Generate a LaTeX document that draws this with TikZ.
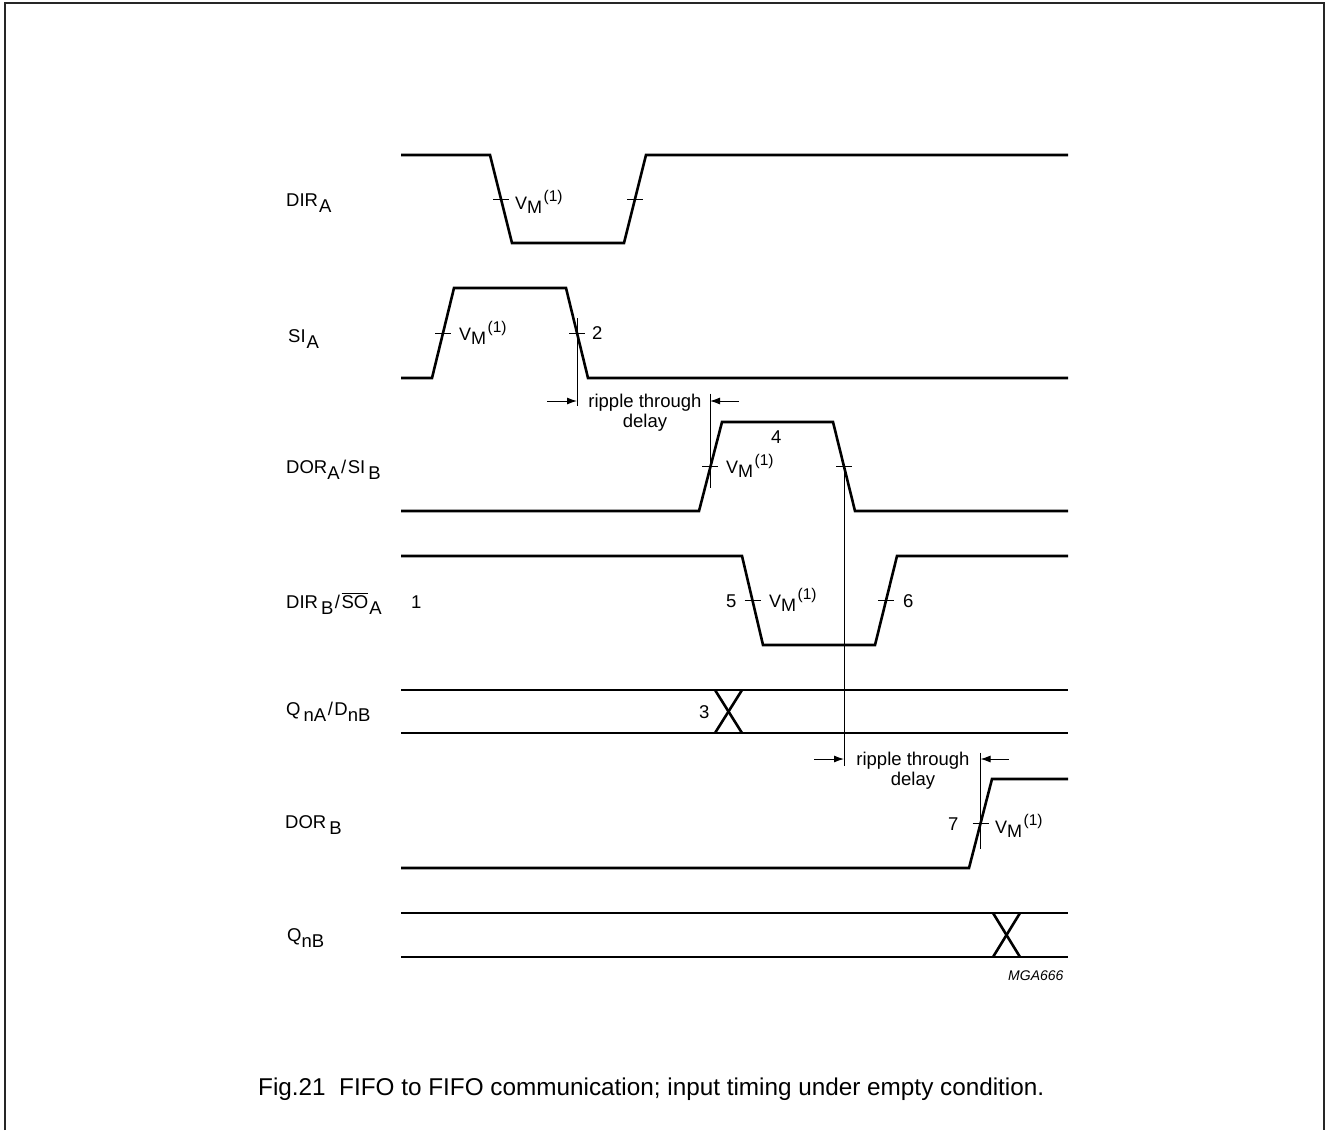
\documentclass[tikz,border=0pt]{standalone}
\usepackage{fontspec}
\setmainfont{Liberation Sans}
\usetikzlibrary{arrows.meta}

\newcommand{\lo}[1]{\raisebox{-6pt}{#1}}
\newcommand{\vmsup}[1]{\raisebox{8pt}{\fontsize{15.5}{16}\selectfont #1}}
\newcommand{\vm}{V\raisebox{-4pt}{M}\kern1.5pt\vmsup{(1)}}
\newcommand{\vmtick}[1]{\draw[fine] ([xshift=-8pt]#1) -- ([xshift=8pt]#1);}
\newcommand{\sigsep}{\kern1.5pt/\kern1.5pt}

\begin{document}
\begin{tikzpicture}[x=1pt, y=-1pt, font=\fontsize{18.5}{20}\selectfont,
  >={Latex[length=10pt, width=7pt]},
  wave/.style={line width=2.6pt, line join=miter},
  fine/.style={line width=1pt},
  lbl/.style={anchor=base west, inner sep=0pt},
  vmlbl/.style={anchor=base west, inner sep=0pt, font=\fontsize{18}{20}\selectfont},
  ripple/.style={anchor=north, align=center, inner sep=0pt}]
  \useasboundingbox (0,0) rectangle (1325,1130);
  % frame
  \draw[line width=2pt, black!85] (5,1130) -- (5,3) -- (1324,3) -- (1324,1130);
  % signal names
  \node[lbl] (dira)  at (286,206) {DIR\kern1pt\lo{A}};
  \node[lbl] (sia)   at (288,342) {SI\kern1pt\lo{A}};
  \node[lbl] (dorsi) at (286,473) {DOR\lo{A}\sigsep SI\,\lo{B}};
  \node[lbl] (dirso) at (286,608) {DIR\,\lo{B}\sigsep$\overline{\mbox{SO}}$\kern1pt\lo{A}};
  \node[lbl] (qd)    at (286,715) {Q\,\lo{nA}\sigsep D\lo{nB}};
  \node[lbl] (dorb)  at (285,828) {DOR\,\lo{B}};
  \node[lbl] (qnb)   at (287,941) {Q\lo{nB}};
  % waveforms
  \draw[wave] (401,155) -- (490,155) -- (512,243) -- (624,243) -- (646,155) -- (1068,155);
  \draw[wave] (401,378) -- (432,378) -- (454,288) -- (566,288) -- (588,378) -- (1068,378);
  \draw[wave] (401,511) -- (699,511) -- (722,422) -- (833,422) -- (855,511) -- (1068,511);
  \draw[wave] (401,556) -- (742,556) -- (763,645) -- (875,645) -- (897,556) -- (1068,556);
  \draw[wave] (401,690) -- (1068,690);
  \draw[wave] (401,733) -- (1068,733);
  \draw[wave] (715,690) -- (742,733);
  \draw[wave] (715,733) -- (742,690);
  \draw[wave] (401,868) -- (969,868) -- (992,779) -- (1068,779);
  \draw[wave] (401,913) -- (1068,913);
  \draw[wave] (401,957) -- (1068,957);
  \draw[wave] (993,913) -- (1020,957);
  \draw[wave] (993,957) -- (1020,913);
  % switching points
  \coordinate (diraf) at (501,199);
  \coordinate (dirar) at (635,199);
  \coordinate (siar)  at (443,333);
  \coordinate (siaf)  at (577,333);
  \coordinate (dorar) at (710,466.5);
  \coordinate (doraf) at (844,466.5);
  \coordinate (dirbf) at (752.5,600.5);
  \coordinate (dirbr) at (886,600.5);
  \coordinate (dorbr) at (980.5,823.5);
  \foreach \p in {diraf,dirar,siar,siaf,dorar,doraf,dirbf,dirbr,dorbr}
    {\vmtick{\p}}
  \node[vmlbl] (vm1) at (515,209) {\vm};
  \node[vmlbl] (vm2) at (459,340) {\vm};
  \node[vmlbl] (vm3) at (726,473) {\vm};
  \node[vmlbl] (vm4) at (769,607) {\vm};
  \node[vmlbl] (vm5) at (995,833) {\vm};
  % event numbers
  \node[lbl] (n1) at (411,608) {1};
  \node[lbl] (n2) at (592,339) {2};
  \node[lbl] (n3) at (699,718) {3};
  \node[lbl] (n4) at (771,443) {4};
  \node[lbl] (n5) at (726,607) {5};
  \node[lbl] (n6) at (903,607) {6};
  \node[lbl] (n7) at (948,830) {7};
  % ripple through delays
  \draw[fine] (siaf) ++(0,-15) -- ++(0,88);
  \draw[fine] (dorar) ++(0,-73) -- ++(0,94);
  \draw[fine] (doraf) -- ++(0,299);
  \draw[fine] (dorbr) ++(0,-71) -- ++(0,96);
  \coordinate (d1a) at (577,401);
  \coordinate (d1b) at (710,401);
  \coordinate (d2a) at (844,759);
  \coordinate (d2b) at (980.5,759);
  \draw[fine,->] ([xshift=-30pt]d1a) -- (d1a);
  \draw[fine,->] ([xshift=29pt]d1b) -- (d1b);
  \draw[fine,->] ([xshift=-30pt]d2a) -- (d2a);
  \draw[fine,->] ([xshift=28pt]d2b) -- (d2b);
  \node[ripple] (rip1) at (645,393.5) {ripple through\\delay};
  \node[ripple] (rip2) at (913,751.5) {ripple through\\delay};
  % figure code and caption
  \node[lbl, font=\fontsize{14}{16}\selectfont\itshape] (code) at (1008,980) {MGA666};
  \node[lbl, font=\fontsize{24.3}{28}\selectfont] (cap) at (258,1095)
    {Fig.21\ \ FIFO to FIFO communication; input timing under empty condition.};
\end{tikzpicture}
\end{document}
